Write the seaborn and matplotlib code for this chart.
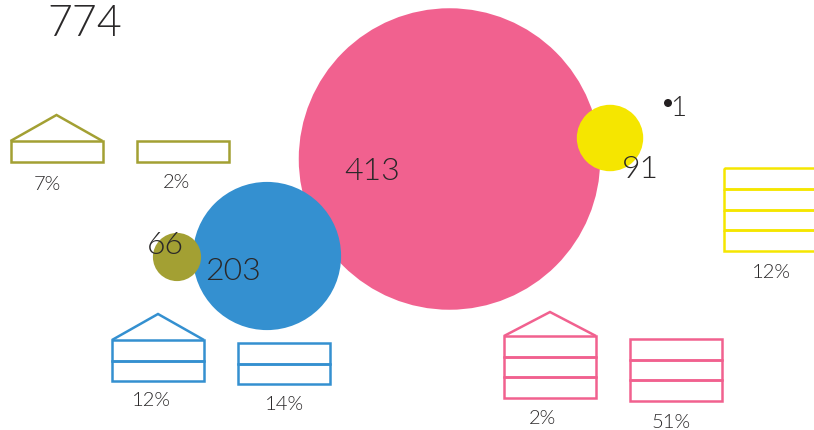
import matplotlib
matplotlib.use("Agg")
import matplotlib.pyplot as plt
from matplotlib.patches import Polygon, Rectangle
import pandas as pd
import seaborn as sns

# Bubble values and their colours
bubble_values = [413, 203, 66, 91, 1]
bubble_groups = ["pink", "blue", "olive", "yellow", "black"]
group_colours = {"pink": "#F1618F", "blue": "#3490D0", "olive": "#A3A033",
                 "yellow": "#F5E600", "black": "#231F20"}
total_label = "774"

# Icon values: share, colour group, storeys, has a roof
icon_shares = ["7%", "2%", "12%", "14%", "2%", "51%", "12%"]
icon_groups = ["olive", "olive", "blue", "blue", "pink", "pink", "yellow"]
icon_storeys = [1, 1, 2, 2, 3, 3, 4]
icon_roofed = [True, False, True, False, True, False, False]

# Canvas layout, in pixels from the top-left corner
bubble_x = [449.5, 267, 177, 610, 668]
bubble_y = [159, 256, 257, 138, 103]
bubble_label_xy = [(372, 172), (233, 272), (165, 246), (640, 170), (678.5, 108)]
icon_left = [10.5, 137, 112, 238, 504, 630, 723.5]
icon_top = [141, 141, 340, 343, 336, 339, 168]
icon_storey_h = [21, 21, 20.5, 20.5, 20.7, 20.7, 20.75]
icon_roof_h = [26, 0, 26, 0, 24, 0, 0]
icon_label_xy = [(47, 184), (176, 183), (151, 400), (284, 404),
                 (542, 418), (671, 422), (771, 272)]
ICON_W = 92
PX_PER_VALUE = 0.365
MIN_RADIUS = 4

sns.set_theme(style="white")
plt.rcParams["font.family"] = ["Lato", "DejaVu Sans"]
INK = "#2A2829"
TEXT_WEIGHT = 300

fig = plt.figure(figsize=(8.14, 4.30), dpi=100)
ax = fig.add_axes([0, 0, 1, 1])

df = pd.DataFrame({"x": bubble_x, "y": bubble_y, "group": bubble_groups})


def marker_area(value):
    # Radius grows with the value; scatter areas are in square points
    radius_px = max(value * PX_PER_VALUE, MIN_RADIUS)
    return (2 * radius_px * 72 / fig.dpi) ** 2


sns.scatterplot(
    data=df, x="x", y="y", hue="group", palette=group_colours,
    size="group", sizes={g: marker_area(v) for g, v in zip(bubble_groups, bubble_values)},
    linewidth=0, alpha=1, legend=False, ax=ax, zorder=2,
)
ax.set_xlim(0, 814)
ax.set_ylim(430, 0)
ax.axis("off")

# House-like icons: one rectangle per storey, with an optional roof
for left, top, h, storeys, roofed, roof_h, group in zip(
        icon_left, icon_top, icon_storey_h, icon_storeys, icon_roofed, icon_roof_h, icon_groups):
    colour = group_colours[group]
    for i in range(storeys):
        ax.add_patch(Rectangle((left, top + i * h), ICON_W, h, fill=False,
                               edgecolor=colour, linewidth=1.8, zorder=3))
    if roofed:
        ax.add_patch(Polygon([(left, top), (left + ICON_W / 2, top - roof_h),
                              (left + ICON_W, top)], closed=False, fill=False,
                             edgecolor=colour, linewidth=1.8, zorder=3))

for (x, y), value, size in zip(bubble_label_xy, bubble_values, [23, 23, 23, 23, 20]):
    ax.text(x, y, str(value), ha="center", va="center", fontsize=size,
            fontweight=TEXT_WEIGHT, color=INK, zorder=4)
for (x, y), share in zip(icon_label_xy, icon_shares):
    ax.text(x, y, share, ha="center", va="center", fontsize=14.5,
            fontweight=TEXT_WEIGHT, color=INK, zorder=4)
ax.text(85, 24, total_label, ha="center", va="center", fontsize=31,
        fontweight=TEXT_WEIGHT, color=INK, zorder=4)

fig.savefig("out.png", dpi=100, facecolor="white")
